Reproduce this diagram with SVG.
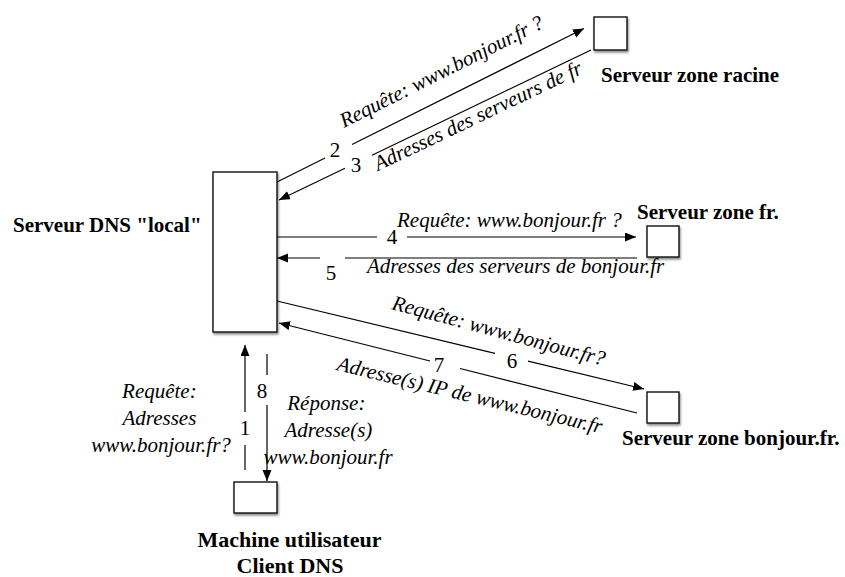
<svg xmlns="http://www.w3.org/2000/svg" width="845" height="577" viewBox="0 0 845 577">
  <style>
    .box { fill: #ffffff; stroke: #111111; stroke-width: 1.4; filter: url(#shadow); }
    .node { font-family: "Liberation Serif", "Times New Roman", serif; font-weight: bold; font-size: 21px; fill: #000; }
    .lbl { font-family: "Liberation Serif", "Times New Roman", serif; font-style: italic; font-size: 21px; fill: #000; }
    .num { font-family: "Liberation Serif", "Times New Roman", serif; font-size: 21px; fill: #000; }
    .edge { fill: none; stroke: #000; stroke-width: 1.2; marker-end: url(#arrow); }
  </style>
  <defs>
    <marker id="arrow" markerUnits="userSpaceOnUse" markerWidth="12" markerHeight="10" refX="11" refY="4.5" orient="auto">
      <path d="M0,0 L11,4.5 L0,9 z" fill="#000"/>
    </marker>
    <filter id="shadow" x="-20%" y="-20%" width="150%" height="150%">
      <feDropShadow dx="1" dy="2" stdDeviation="1.2" flood-color="#000" flood-opacity="0.45"/>
    </filter>
  </defs>
  <rect width="845" height="577" fill="#ffffff"/>

  <g id="connectors">
    <path id="e2" class="edge" d="M277,182 L325,158 M352,144.5 L584,28.5"/>
    <path id="e3" class="edge" d="M591,50 L372,155.3 M345,168.3 L279,200"/>
    <path id="e4" class="edge" d="M273,237 L377,237 M407,237 L636,237"/>
    <path id="e5" class="edge" d="M637,258 L345,258 M320,258 L277,258"/>
    <path id="e6" class="edge" d="M277,301 L495,353.3 M528,361.2 L644,389"/>
    <path id="e7" class="edge" d="M637,413 L460,368.5 M430,361 L279,323"/>
    <path id="e1" class="edge" d="M245,470 L245,445 M245,412 L245,345"/>
    <path id="e8" class="edge" d="M267,354 L267,375 M267,405 L267,481"/>

    <g id="edge-labels">
      <text class="num" x="335" y="157" text-anchor="middle">2</text>
      <text class="num" x="356" y="172" text-anchor="middle">3</text>
      <text class="num" x="392" y="244" text-anchor="middle">4</text>
      <text class="num" x="331" y="280" text-anchor="middle">5</text>
      <text class="num" x="512" y="368" text-anchor="middle">6</text>
      <text class="num" x="439" y="372" text-anchor="middle">7</text>
      <text class="num" x="245" y="435" text-anchor="middle">1</text>
      <text class="num" x="262" y="398" text-anchor="middle">8</text>

      <text class="lbl" transform="translate(344,128) rotate(-26.6)">Requête: www.bonjour.fr ?</text>
      <text class="lbl" transform="translate(378,171) rotate(-25.5)">Adresses des serveurs de fr</text>
      <text class="lbl" x="397" y="227">Requête: www.bonjour.fr ?</text>
      <text class="lbl" x="367" y="273">Adresses des serveurs de bonjour.fr</text>
      <text class="lbl" transform="translate(391,309) rotate(15)">Requête: www.bonjour.fr?</text>
      <text class="lbl" transform="translate(336,370) rotate(13.5)">Adresse(s) IP de www.bonjour.fr</text>

      <text class="lbl" text-anchor="middle">
        <tspan x="162" y="398">Requête:</tspan>
        <tspan x="162" y="425">Adresses</tspan>
        <tspan x="161" y="452">www.bonjour.fr?</tspan>
      </text>
      <text class="lbl" text-anchor="middle">
        <tspan x="329" y="410">Réponse:</tspan>
        <tspan x="331" y="437">Adresse(s)</tspan>
        <tspan x="328" y="464">www.bonjour.fr</tspan>
      </text>
    </g>
  </g>

  <g id="local">
    <rect class="box" x="213" y="172" width="64" height="160"/>
    <text class="node" x="13" y="232">Serveur DNS "local"</text>
  </g>

  <g id="root">
    <rect class="box" x="594" y="17" width="33" height="33"/>
    <text class="node" x="601" y="82">Serveur zone racine</text>
  </g>

  <g id="fr">
    <rect class="box" x="647" y="226" width="32" height="31"/>
    <text class="node" x="637" y="219">Serveur zone fr.</text>
  </g>

  <g id="bonjour">
    <rect class="box" x="647" y="392" width="32" height="31"/>
    <text class="node" x="622" y="445">Serveur zone bonjour.fr.</text>
  </g>

  <g id="client">
    <rect class="box" x="234" y="482" width="43" height="31"/>
    <text class="node" text-anchor="middle" style="font-size:22px">
      <tspan x="292" y="547">Machine utilisateur</tspan>
      <tspan x="290" y="573">Client DNS</tspan>
    </text>
  </g>
</svg>
